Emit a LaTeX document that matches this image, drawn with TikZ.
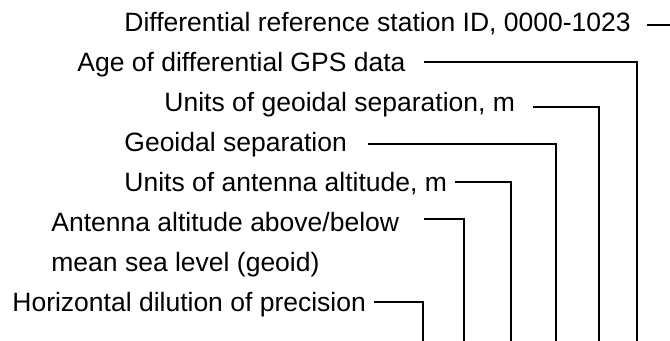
\documentclass[tikz,border=0pt]{standalone}
\usepackage{fontspec}
\setmainfont{Liberation Sans}
\begin{document}
\begin{tikzpicture}[x=0.5pt, y=-0.5pt,
    lbl/.style={anchor=west, inner sep=0pt, text height=9.5pt, text depth=0pt,
        font=\fontsize{13.25pt}{16pt}\selectfont},
    wire/.style={line width=0.7pt}]
    \useasboundingbox (0,0) rectangle (670,341);
    \coordinate (bot) at (0,341);

    \node[lbl] (refid) at (124,22) {Differential reference station ID, 0000-1023};
    \node[lbl] (dgpsage) at (77,62) {Age of differential GPS data};
    \node[lbl] (sepunit) at (164,102) {Units of geoidal separation, m};
    \node[lbl] (geosep) at (124,142) {Geoidal separation};
    \node[lbl] (altunit) at (124,182) {Units of antenna altitude, m};
    \node[lbl] (alt) at (51,222) {Antenna altitude above/below};
    \node[lbl] (altmsl) at (51,262) {mean sea level (geoid)};
    \node[lbl] (hdop) at (12,302) {Horizontal dilution of precision};

    \coordinate (refid-c) at (670,25);
    \coordinate (dgpsage-c) at (637,62);
    \coordinate (sepunit-c) at (599,107);
    \coordinate (geosep-c) at (556,144);
    \coordinate (altunit-c) at (511,182);
    \coordinate (alt-c) at (464,219);
    \coordinate (hdop-c) at (423,302);

    \draw[wire] ([xshift=8pt]refid.east |- refid-c) -- (refid-c);
    \draw[wire] ([xshift=9pt]dgpsage.east |- dgpsage-c) -- (dgpsage-c) -- (dgpsage-c |- bot);
    \draw[wire] ([xshift=9pt]sepunit.east |- sepunit-c) -- (sepunit-c) -- (sepunit-c |- bot);
    \draw[wire] ([xshift=10.5pt]geosep.east |- geosep-c) -- (geosep-c) -- (geosep-c |- bot);
    \draw[wire] ([xshift=4pt]altunit.east |- altunit-c) -- (altunit-c) -- (altunit-c |- bot);
    \draw[wire] ([xshift=12pt]alt.east |- alt-c) -- (alt-c) -- (alt-c |- bot);
    \draw[wire] ([xshift=4pt]hdop.east |- hdop-c) -- (hdop-c) -- (hdop-c |- bot);
\end{tikzpicture}
\end{document}
